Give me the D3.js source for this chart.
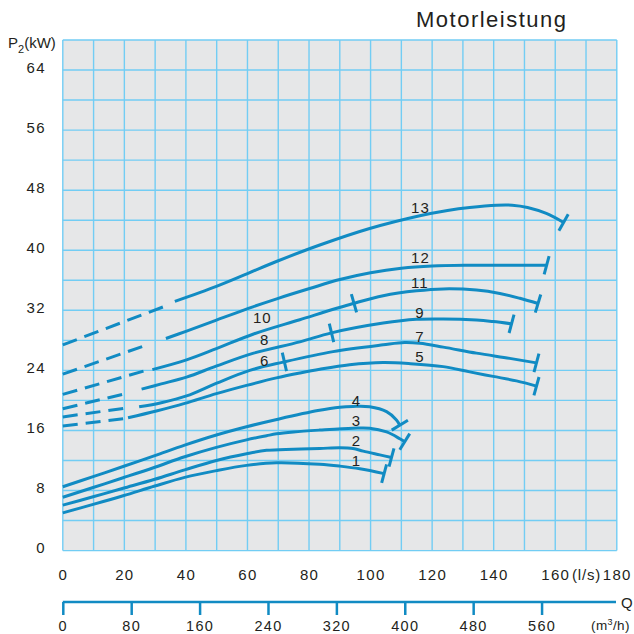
<!DOCTYPE html>
<html><head><meta charset="utf-8">
<script src="https://cdn.jsdelivr.net/npm/d3@7"></script>
<style>
html,body{margin:0;padding:0;background:#fff;}
svg text{font-family:"Liberation Sans",Arial,sans-serif;fill:#231f20;}
</style></head><body>
<svg id="chart" width="634" height="634"></svg>
<script>
// ---------- data ----------
const qTicks = [0,20,40,60,80,100,120,140,160,180];          // l/s
const pTicks = [0,8,16,24,32,40,48,56,64];                   // kW
const m3hTicks = [0,80,160,240,320,400,480,560];             // m3/h

// solid curves [Q l/s, P2 kW]
const curve1 = [[0,5.03],[9.85,6.15],[19.6,7.3],[29.9,8.6],[39.6,9.75],[49.9,10.65],[59.7,11.35],[69.4,11.7],[83.5,11.5],[90,11.25],[96.5,10.9],[104.4,10.25]];
const curve2 = [[0,6.06],[9.85,7.17],[19.6,8.3],[29.9,9.5],[39.6,10.75],[49.9,12.0],[59.7,12.9],[66.2,13.35],[75,13.5],[83.5,13.6],[90,13.7],[94.3,13.6],[97.6,13.25],[103,12.75],[106.8,12.4]];
const curve3 = [[0,7.1],[9.85,8.4],[19.6,9.7],[29.9,11.1],[39.6,12.5],[49.9,13.75],[59.7,14.75],[66.2,15.3],[69.4,15.55],[75,15.8],[83.5,16.05],[94.3,16.3],[99.7,16.3],[105.2,15.8],[109.5,14.9],[111.1,14.5]];
const curve4 = [[0,8.5],[9.85,9.85],[19.6,11.2],[29.9,12.65],[39.6,14.05],[49.9,15.4],[59.7,16.5],[69.9,17.5],[82.9,18.65],[90,19.1],[94.3,19.2],[99.7,19.15],[105.2,18.5],[108.4,17.4],[109.5,16.7]];
const curve5 = [[21.2,17.7],[30.4,18.6],[39.6,19.6],[49.9,20.9],[59.7,22.0],[69.4,23.0],[77,23.65],[83.5,24.15],[93.2,24.75],[104.1,25.05],[113,24.9],[123.6,24.5],[132.2,23.8],[139.8,23.2],[147.4,22.6],[153.9,21.9]];
const curve7 = [[24.8,19.15],[32,19.7],[40.2,20.6],[50,22.3],[60.75,24.0],[71.6,25.1],[87.8,26.5],[104.1,27.4],[111,27.7],[116,27.6],[123.6,27.1],[134.4,26.3],[145.2,25.6],[153.9,25.0]];
const curve9 = [[25.6,21.5],[32,22.2],[40.2,23.1],[50,24.6],[62,26.3],[77,27.8],[87.3,29.0],[104.1,30.3],[114.9,30.8],[123.6,30.85],[134.4,30.7],[139.8,30.5],[145.8,30.2]];
const curve11 = [[29.1,24.1],[40.2,25.4],[49.9,26.9],[62,28.85],[77,30.75],[94.3,32.9],[104.1,33.95],[114.9,34.6],[123.6,34.85],[134.4,34.7],[142,34.25],[148.5,33.6],[154.4,32.9]];
const curve12 = [[33.5,28.25],[40,29.2],[49.9,30.7],[62,32.5],[70,33.6],[80.2,34.9],[90,36.1],[100,37.0],[110,37.6],[120,37.9],[132,38.0],[157.2,38.0]];
const curve13 = [[36.4,33.2],[49.9,35.2],[60,36.9],[69.4,38.5],[83.5,40.7],[99.7,42.9],[116,44.6],[125,45.3],[132.2,45.7],[141,46.0],[146,46.0],[151,45.7],[157.1,44.9],[162.7,43.7]];

// dashed (extrapolated) starts
const dash5  = [[0,16.6],[19.6,17.55]];
const dash7  = [[0,17.8],[20.7,19.0]];
const dash9  = [[0,18.9],[20.3,20.9]];
const dash11 = [[0,20.8],[27,24.0]];
const dash12 = [[0,23.5],[27.4,27.4]];
const dash13 = [[0,27.4],[34.8,32.8]];

// end of shorter curves sharing a line (curve 6 on 7, 8 on 9, 10 on 11)
const midEnds = [{curve:"7", q:72.0},{curve:"9", q:87.3},{curve:"11", q:94.6}];

// curve number labels [text, Q, P]
const curveLabels = [
  ["13",116.2,45.7],["12",116.2,39.0],["11",116,35.66],["9",116,31.66],["7",116,28.47],["5",116,25.8],
  ["10",64.8,31.0],["8",65.6,28.1],["6",65.6,25.3],
  ["4",95.4,20.04],["3",95.4,17.28],["2",95.4,14.62],["1",95.4,11.96]
];

// ---------- drawing ----------
const curves = {"1":curve1,"2":curve2,"3":curve3,"4":curve4,"5":curve5,"7":curve7,"9":curve9,"11":curve11,"12":curve12,"13":curve13};
const dashes = [dash5,dash7,dash9,dash11,dash12,dash13];

const BLUE = "#118bc3", GRID = "#72cdf4", BG = "#e6e7e8";
const svg = d3.select("#chart");
const x = d3.scaleLinear().domain([0,180]).range([62.8,616.8]);
const y = d3.scaleLinear().domain([0,68]).range([550.6,40]);
const xm = d3.scaleLinear().domain([0,648]).range([62.8,616.8]);

svg.append("rect").attr("x",x(0)).attr("y",y(68)).attr("width",x(180)-x(0)).attr("height",y(0)-y(68)).attr("fill",BG);

const grid = svg.append("g").attr("stroke",GRID).attr("stroke-width",1.4);
grid.selectAll("line.v").data(d3.range(0,181,10)).join("line")
  .attr("x1",d=>x(d)).attr("x2",d=>x(d)).attr("y1",y(0)).attr("y2",y(68));
grid.selectAll("line.h").data(d3.range(0,69,4)).join("line").attr("class","h")
  .attr("y1",d=>y(d)).attr("y2",d=>y(d)).attr("x1",x(0)).attr("x2",x(180));

// y axis labels
const yAx = svg.append("g").attr("transform",`translate(${x(0)},0)`)
  .call(d3.axisLeft(y).tickValues(pTicks).tickSize(0).tickPadding(17));
yAx.select(".domain").remove();
yAx.selectAll("text").attr("font-size",15).attr("font-family",null).attr("dy","0.15em").attr("letter-spacing","1.3px").attr("fill","#231f20");

// x axis (l/s) labels
const xAx = svg.append("g").attr("transform",`translate(0,${y(0)})`)
  .call(d3.axisBottom(x).tickValues(qTicks).tickSize(0).tickPadding(0));
xAx.select(".domain").remove();
xAx.selectAll("text").attr("font-size",15).attr("font-family",null).attr("y",29.4).attr("dy",0).attr("letter-spacing","1.3px").attr("fill","#231f20");
svg.append("text").attr("x",572).attr("y",580).attr("font-size",15).attr("letter-spacing","0.8px").text("(l/s)");

// m3/h axis
const mAx = svg.append("g").attr("transform","translate(0,602)")
  .call(d3.axisBottom(xm).tickValues(m3hTicks).tickSize(13).tickSizeOuter(0));
mAx.select(".domain").attr("stroke",BLUE).attr("stroke-width",2.5).attr("d",`M${xm(0)},0H616`);
mAx.selectAll(".tick line").attr("stroke",BLUE).attr("stroke-width",2.5);
mAx.selectAll("text").attr("font-size",14.5).attr("font-family",null).attr("y",28.6).attr("dy",0).attr("letter-spacing","1.3px").attr("fill","#231f20");
svg.append("text").attr("x",621).attr("y",607.5).attr("font-size",15).text("Q");
const mu = svg.append("text").attr("x",591).attr("y",629.5).attr("font-size",13.5).attr("letter-spacing","0.4px");
mu.append("tspan").text("(m");
mu.append("tspan").attr("font-size",9).attr("dy",-5).text("3");
mu.append("tspan").attr("dy",5).text("/h)");

// titles
svg.append("text").attr("x",416).attr("y",26.7).attr("font-size",22).attr("letter-spacing","1.5px").text("Motorleistung");
const pl = svg.append("text").attr("x",8).attr("y",47.5).attr("font-size",15);
pl.append("tspan").text("P");
pl.append("tspan").attr("font-size",11).attr("dy",5).text("2");
pl.append("tspan").attr("dy",-5).text("(kW)");

// curves
const line = d3.line().x(d=>x(d[0])).y(d=>y(d[1])).curve(d3.curveCatmullRom.alpha(0.5));
const lineStraight = d3.line().x(d=>x(d[0])).y(d=>y(d[1]));
const cg = svg.append("g").attr("fill","none").attr("stroke",BLUE).attr("stroke-width",3);
dashes.forEach(dd=>{
  cg.append("path").attr("d",lineStraight(dd)).attr("stroke-dasharray","15,8");
});
const paths = {};
Object.entries(curves).forEach(([k,pts])=>{
  paths[k] = cg.append("path").attr("d",line(pts)).attr("stroke-linecap","butt").node();
});

const TL = 9.5;
function drawTick(cx,cy,theta){
  const nx = -Math.sin(theta), ny = Math.cos(theta);
  cg.append("line").attr("x1",cx-nx*TL).attr("y1",cy-ny*TL).attr("x2",cx+nx*TL).attr("y2",cy+ny*TL);
}
// end ticks
Object.values(paths).forEach(p=>{
  const L = p.getTotalLength();
  const a = p.getPointAtLength(L-5), b = p.getPointAtLength(L);
  let th = Math.atan2(b.y-a.y,b.x-a.x);
  th = Math.max(th, 15*Math.PI/180);
  drawTick(b.x,b.y,th);
});
// mid ticks
midEnds.forEach(m=>{
  const p = paths[m.curve], L = p.getTotalLength(), tx = x(m.q);
  let lo=0, hi=L;
  for(let i=0;i<40;i++){const mid=(lo+hi)/2; if(p.getPointAtLength(mid).x<tx) lo=mid; else hi=mid;}
  const c = p.getPointAtLength(lo), a = p.getPointAtLength(Math.max(0,lo-4)), b = p.getPointAtLength(lo+4);
  drawTick(c.x,c.y,Math.atan2(b.y-a.y,b.x-a.x));
});

// curve labels
svg.append("g").selectAll("text").data(curveLabels).join("text")
  .attr("x",d=>x(d[1])).attr("y",d=>y(d[2])).attr("dy","0.36em")
  .attr("text-anchor","middle").attr("font-size",15).attr("letter-spacing","1px").text(d=>d[0]);
</script>
</body></html>
